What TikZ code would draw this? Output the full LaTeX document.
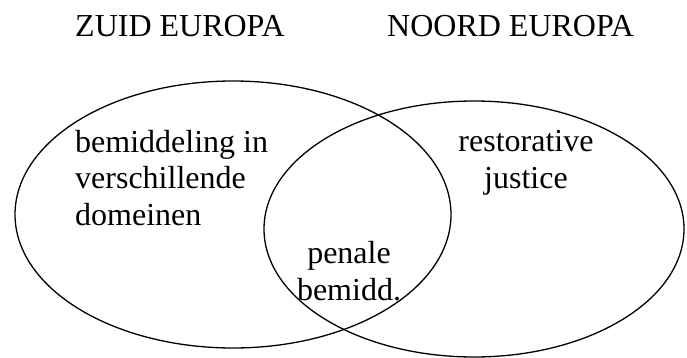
\documentclass[tikz,border=0pt]{standalone}
\usepackage{fontspec}
\setmainfont{Liberation Serif}
\usetikzlibrary{shapes.geometric}
\tikzset{
  setshape/.style={ellipse, draw=black, line width=1.3pt, inner sep=0pt},
  lbl/.style={inner sep=0pt, font=\fontsize{32}{36.7}\selectfont}
}
\begin{document}
\begin{tikzpicture}[x=1pt, y=-1pt]
\useasboundingbox (0,0) rectangle (687,358);
\node[setshape, minimum width=436pt, minimum height=267pt] (zuid) at (233,214.5) {};
\node[setshape, minimum width=420pt, minimum height=256pt] (noord) at (474,229) {};
\node[lbl, anchor=base west] (tz) at (75,37) {ZUID EUROPA};
\node[lbl, anchor=base west] (tn) at (387,37) {NOORD EUROPA};
\node[lbl, anchor=base west, align=left] (bem) at (75,225.4) {bemiddeling in\\verschillende\\domeinen};
\node[lbl, anchor=base, align=center] (rj) at (526,188.7) {restorative\\justice};
\node[lbl, anchor=base, align=center] (pb) at (349,300) {penale\\bemidd.};
\end{tikzpicture}
\end{document}
